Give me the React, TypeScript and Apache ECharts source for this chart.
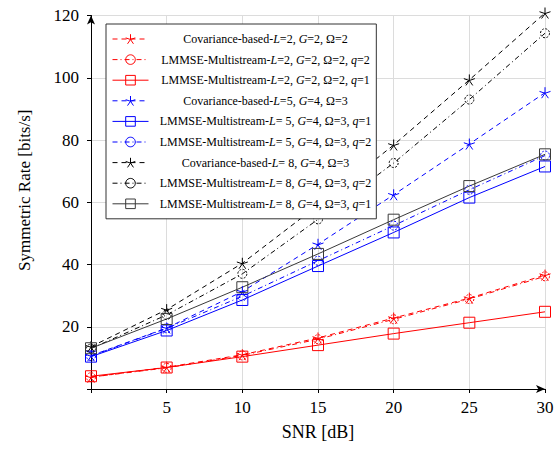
import React, { useEffect, useRef } from "react";
import * as echarts from "echarts";

const snr = [0, 5, 10, 15, 20, 25, 30];
const xTicks = [0, 5, 10, 15, 20, 25, 30];
const yTicks = [0, 20, 40, 60, 80, 100, 120];

const covL2 = [3.8, 7.0, 11.0, 16.4, 22.8, 29.2, 36.6];
const lmmseL2q2 = [3.8, 6.8, 10.8, 16.0, 22.4, 28.9, 36.2];
const lmmseL2q1 = [4.1, 6.9, 10.4, 14.1, 17.8, 21.3, 24.8];
const covL5 = [10.7, 19.6, 31.3, 46.5, 62.4, 78.7, 95.2];
const lmmseL5q1 = [10.4, 18.8, 28.6, 39.5, 50.3, 61.5, 71.5];
const lmmseL5q2 = [10.6, 19.5, 29.8, 41.2, 52.5, 64.0, 75.0];
const covL8 = [13.6, 25.5, 40.4, 59.0, 78.4, 99.3, 120.8];
const lmmseL8q2 = [13.0, 23.8, 37.0, 54.5, 72.6, 93.0, 114.3];
const lmmseL8q1 = [13.1, 22.5, 32.7, 43.4, 54.4, 65.2, 75.4];

const names = [
  "Covariance-based-L=2, G=2, Ω=2",
  "LMMSE-Multistream-L=2, G=2, Ω=2, q=2",
  "LMMSE-Multistream-L=2, G=2, Ω=2, q=1",
  "Covariance-based-L=5, G=4, Ω=3",
  "LMMSE-Multistream-L= 5, G=4, Ω=3, q=1",
  "LMMSE-Multistream-L= 5, G=4, Ω=3, q=2",
  "Covariance-based-L= 8, G=4, Ω=3",
  "LMMSE-Multistream-L= 8, G=4, Ω=3, q=2",
  "LMMSE-Multistream-L= 8, G=4, Ω=3, q=1",
];

const FONT = "'Liberation Serif', 'DejaVu Serif', serif";
const STAR =
  "path://M0,-10L0,0M9.51,-3.09L0,0M5.88,8.09L0,0M-5.88,8.09L0,0M-9.51,-3.09L0,0";
const DASHED = [5, 4];
const DASHDOT = [5, 3, 1, 3];

type Kind = "star" | "circle" | "rect";

function mk(name: string, data: number[], color: string, dash: any, kind: Kind) {
  return {
    name,
    type: "line",
    data: snr.map((x, i) => [x, data[i]]),
    clip: false,
    symbol: kind === "star" ? STAR : kind,
    symbolSize: kind === "star" ? 11 : kind === "rect" ? 11 : 9,
    lineStyle: { color, width: 1, type: dash },
    itemStyle: {
      color: kind === "star" ? color : "rgba(0,0,0,0)",
      borderColor: color,
      borderWidth: 1,
      borderType: kind === "circle" ? [2, 1.5] : "solid",
    },
    emphasis: { disabled: true },
  };
}

function richName(name: string) {
  const parts = name.split(/([LGq](?==))/).filter((p) => p);
  return parts
    .map((p) => (/^[LGq]$/.test(p) ? `{i|${p}}` : `{n|${p}}`))
    .join("");
}

export default function App() {
  const ref = useRef<HTMLDivElement>(null);
  useEffect(() => {
    if (!ref.current) return;
    const chart = echarts.init(ref.current, null, { renderer: "svg" });
    const red = "#ff0000";
    const blue = "#0000ff";
    const black = "#000000";
    const gray = "#3a3a3a";
    const series = [
      mk(names[0], covL2, red, DASHED, "star"),
      mk(names[1], lmmseL2q2, red, DASHDOT, "circle"),
      mk(names[2], lmmseL2q1, red, "solid", "rect"),
      mk(names[3], covL5, blue, DASHED, "star"),
      mk(names[4], lmmseL5q1, blue, "solid", "rect"),
      mk(names[5], lmmseL5q2, blue, DASHDOT, "circle"),
      mk(names[6], covL8, black, DASHED, "star"),
      mk(names[7], lmmseL8q2, black, DASHDOT, "circle"),
      mk(names[8], lmmseL8q1, gray, "solid", "rect"),
    ];
    chart.setOption({
      animation: false,
      backgroundColor: "#ffffff",
      grid: {
        left: 91,
        right: 15,
        top: 15.5,
        bottom: 64,
        containLabel: false,
        outerBoundsMode: "none",
      },
      xAxis: {
        type: "value",
        min: xTicks[0],
        max: xTicks[xTicks.length - 1],
        interval: 5,
        name: "SNR [dB]",
        nameLocation: "middle",
        nameGap: 34,
        nameTextStyle: { fontFamily: FONT, fontSize: 18, color: "#000" },
        axisLine: {
          show: true,
          symbol: ["none", "arrow"],
          symbolSize: [6, 9],
          lineStyle: { color: "#000", width: 1 },
        },
        axisTick: { show: true, length: 4, inside: false, lineStyle: { color: "#000" } },
        axisLabel: {
          show: true,
          margin: 10,
          fontFamily: FONT,
          fontSize: 17,
          color: "#000",
          formatter: (v: number) => (v === 0 ? "" : String(v)),
        },
        splitLine: { show: true, lineStyle: { color: "#dcdcdc", width: 1 } },
      },
      yAxis: {
        type: "value",
        min: yTicks[0],
        max: yTicks[yTicks.length - 1],
        interval: 20,
        name: "Symmetric Rate [bits/s]",
        nameLocation: "middle",
        nameGap: 58,
        nameTextStyle: {
          fontFamily: FONT,
          fontSize: 17,
          color: "#000",
          padding: [0, 0, 0, 24],
        },
        axisLine: {
          show: true,
          symbol: ["none", "arrow"],
          symbolSize: [6, 9],
          lineStyle: { color: "#000", width: 1 },
        },
        axisTick: { show: true, length: 4, inside: false, lineStyle: { color: "#000" } },
        axisLabel: {
          show: true,
          margin: 12,
          fontFamily: FONT,
          fontSize: 17,
          color: "#000",
          formatter: (v: number) => (v === 0 ? "" : String(v)),
        },
        splitLine: { show: true, lineStyle: { color: "#dcdcdc", width: 1 } },
      },
      legend: {
        show: true,
        data: names,
        orient: "vertical",
        left: 106,
        top: 24,
        padding: [9, 5, 9, 6],
        itemWidth: 36,
        itemHeight: 12,
        itemGap: 8.6,
        selectedMode: false,
        backgroundColor: "#ffffff",
        borderColor: "#333333",
        borderWidth: 1,
        borderRadius: 0,
        lineStyle: { width: 1 },
        itemStyle: { borderWidth: 1 },
        formatter: (name: string) => richName(name),
        textStyle: {
          width: 224,
          fontFamily: FONT,
          fontSize: 12,
          color: "#000",
          rich: {
            n: { fontFamily: FONT, fontSize: 12, color: "#000", align: "center", lineHeight: 12 },
            i: {
              fontFamily: FONT,
              fontSize: 12,
              fontStyle: "italic",
              color: "#000",
              align: "center",
              lineHeight: 12,
            },
          },
        },
      },
      series,
    });
    return () => chart.dispose();
  }, []);
  return (
    <div
      ref={ref}
      style={{ position: "absolute", left: 0, top: 0, width: 560, height: 453 }}
    />
  );
}
